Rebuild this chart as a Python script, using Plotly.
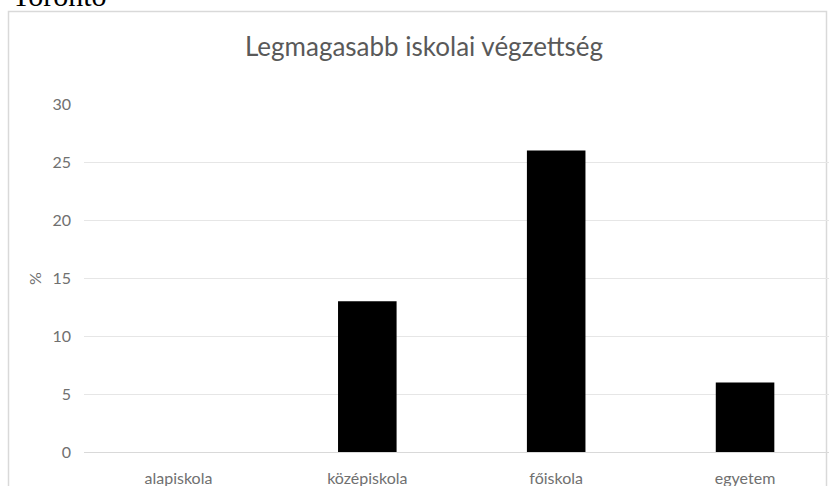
import plotly.graph_objects as go

categories = ["alapiskola", "középiskola", "főiskola", "egyetem"]
values = [0, 13, 26, 6]
y_ticks = [0, 5, 10, 15, 20, 25, 30]

W, H = 829, 486
L, R = 84, 829
T, B = 104, 452

fig = go.Figure(go.Bar(
    x=categories, y=values, marker=dict(color="#000000", line=dict(width=0)),
    width=0.31,
))

fig.update_layout(
    width=W, height=H,
    margin=dict(l=L, r=W - R, t=T, b=H - B, pad=0),
    paper_bgcolor="white", plot_bgcolor="white",
    font=dict(family="Lato, 'Open Sans', sans-serif", color="#666666", size=16),
    title=dict(text="Legmagasabb iskolai végzettség", x=424 / W, xanchor="center",
               y=1 - 47 / H, yanchor="middle", font=dict(size=26, color="#595959")),
    showlegend=False,
)
fig.update_xaxes(range=[-0.5, (R - 178) / 189.0], showgrid=False, showline=True,
                 linecolor="#d9d9d9", linewidth=1, ticks="", ticklabelstandoff=12,
                 tickfont=dict(size=16, color="#707070"))
fig.update_yaxes(range=[0, 30], tickvals=y_ticks, showgrid=True, gridcolor="#e6e6e6",
                 gridwidth=1, zeroline=False, showline=False, ticks="",
                 ticklabelstandoff=12, tickfont=dict(size=16, color="#707070"))

fig.add_annotation(text="%", xref="paper", yref="paper", x=(34 - L) / (R - L),
                   xanchor="center", yanchor="middle",
                   y=(B - 279) / (B - T), showarrow=False, textangle=-90,
                   font=dict(size=16, color="#707070"))
fig.add_annotation(text="Toronto", xref="paper", yref="paper", x=(10 - L) / (R - L),
                   xanchor="left", y=(B - 14) / (B - T), yanchor="bottom",
                   showarrow=False, font=dict(family="Liberation Serif, serif", size=30, color="#000000"))
fig.add_shape(type="rect", xref="paper", yref="paper",
              x0=(8.5 - L) / (R - L), x1=(826.5 - L) / (R - L),
              y0=-(H + 20 - B) / (B - T), y1=(B - 11.5) / (B - T),
              line=dict(color="#d9d9d9", width=1.5), fillcolor="rgba(0,0,0,0)", layer="below")

fig.write_html("out.html", config={"displayModeBar": False},
               post_script="document.body.style.margin='0';")
